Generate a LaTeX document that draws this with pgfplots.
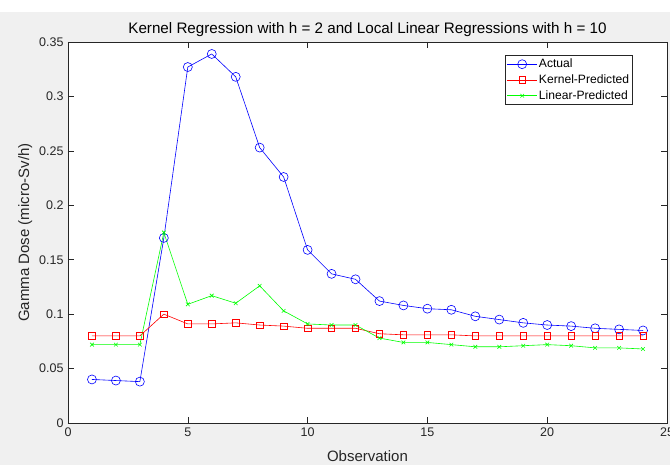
\documentclass[border=0pt]{standalone}
\usepackage{pgfplots}
\pgfplotsset{compat=1.18}
\usepackage{fontspec}
\setmainfont{Liberation Sans}
\definecolor{bggray}{HTML}{F0F0F0}
\definecolor{axgray}{HTML}{262626}
\definecolor{mblue}{RGB}{0,0,255}
\definecolor{mred}{RGB}{255,0,0}
\definecolor{mgreen}{RGB}{0,255,0}
\begin{document}
\begin{tikzpicture}
\fill[white] (-68pt,-42pt) rectangle (602pt,423pt);
\fill[bggray] (-68pt,-42pt) rectangle (602pt,411pt);
\useasboundingbox (-68pt,-42pt) rectangle (602pt,423pt);
\begin{axis}[
  at={(0pt,0pt)}, anchor=south west,
  scale only axis, width=599pt, height=381pt,
  xmin=0, xmax=25, ymin=0, ymax=0.35,
  axis background/.style={fill=white},
  axis line style={axgray, line width=0.6pt},
  tick style={axgray, line width=0.5pt},
  tick align=inside, major tick length=6pt,
  xtick={0,5,10,15,20,25}, xticklabels={0,5,10,15,20,25},
  ytick={0,0.05,0.1,0.15,0.2,0.25,0.3,0.35},
  yticklabels={0,0.05,0.1,0.15,0.2,0.25,0.3,0.35},
  ticklabel style={font=\fontsize{12.5}{14}\selectfont, text=axgray},
  xticklabel style={yshift=-1pt},
  yticklabel style={xshift=-1pt},
  xlabel={Observation}, ylabel={Gamma Dose (micro-Sv/h)},
  label style={font=\fontsize{15}{17}\selectfont, text=axgray},
  xlabel style={yshift=-7pt},
  title={Kernel Regression with h = 2 and Local Linear Regressions with h = 10},
  title style={font=\fontsize{15.2}{17}\selectfont, text=black, at={(rel axis cs:0.5,1)}, anchor=base, yshift=2pt},
  legend style={at={(rel axis cs:0.943,0.965)}, anchor=north east, draw=axgray, line width=0.5pt,
    font=\fontsize{12.1}{13}\selectfont, text=black, inner sep=2pt, row sep=2.5pt,
    nodes={inner sep=1.5pt}},
  legend cell align=left,
  legend image code/.code={\draw[mark repeat=2,mark phase=2] plot coordinates {(0pt,0pt)(15pt,0pt)(30pt,0pt)};},
]
\addplot[mblue, line width=0.6pt, mark=o, mark size=4.5pt, mark options={line width=0.6pt}] coordinates {
(1,0.040)(2,0.039)(3,0.038)(4,0.170)(5,0.327)(6,0.339)(7,0.318)(8,0.253)(9,0.226)(10,0.159)
(11,0.137)(12,0.132)(13,0.112)(14,0.108)(15,0.105)(16,0.104)(17,0.098)(18,0.095)(19,0.092)(20,0.090)
(21,0.089)(22,0.087)(23,0.086)(24,0.085)};
\addlegendentry{Actual}
\addplot[mred, line width=0.6pt, mark=square, mark size=3.2pt, mark options={line width=0.6pt}] coordinates {
(1,0.080)(2,0.080)(3,0.080)(4,0.100)(5,0.091)(6,0.091)(7,0.092)(8,0.090)(9,0.089)(10,0.087)
(11,0.087)(12,0.087)(13,0.082)(14,0.081)(15,0.081)(16,0.081)(17,0.080)(18,0.080)(19,0.080)(20,0.080)
(21,0.080)(22,0.080)(23,0.080)(24,0.080)};
\addlegendentry{Kernel-Predicted}
\addplot[mgreen, line width=0.6pt, mark=x, mark size=2.6pt, mark options={line width=0.6pt}] coordinates {
(1,0.072)(2,0.072)(3,0.072)(4,0.175)(5,0.109)(6,0.117)(7,0.110)(8,0.126)(9,0.103)(10,0.091)
(11,0.090)(12,0.090)(13,0.078)(14,0.074)(15,0.074)(16,0.072)(17,0.070)(18,0.070)(19,0.071)(20,0.072)
(21,0.071)(22,0.069)(23,0.069)(24,0.068)};
\addlegendentry{Linear-Predicted}
\end{axis}
\end{tikzpicture}
\end{document}
